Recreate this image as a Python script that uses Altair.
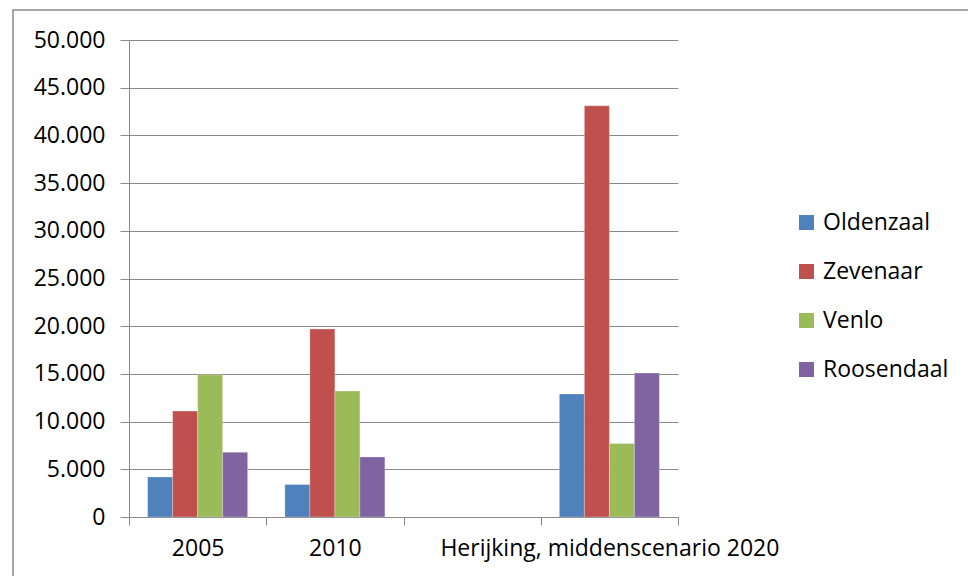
import altair as alt
import pandas as pd

categories = ["2005", "2010", " ", "Herijking, middenscenario 2020"]
series = ["Oldenzaal", "Zevenaar", "Venlo", "Roosendaal"]
colors = ["#4F81BD", "#C0504D", "#9BBB59", "#8064A2"]

oldenzaal = [4200, 3400, None, 12900]
zevenaar = [11100, 19700, None, 43100]
venlo = [14900, 13200, None, 7700]
roosendaal = [6800, 6300, None, 15100]
y_ticks = [0, 5000, 10000, 15000, 20000, 25000, 30000, 35000, 40000, 45000, 50000]

rows = []
for s, vals in zip(series, [oldenzaal, zevenaar, venlo, roosendaal]):
    for c, v in zip(categories, vals):
        if v is not None:
            rows.append({"cat": c, "series": s, "value": v})
df = pd.DataFrame(rows)

W, H = 549, 477
FONT = "Open Sans"
GRAY = "#8a8a8a"
FS = 23

bars = alt.Chart(df).mark_bar(stroke="white", strokeWidth=0.5, strokeOpacity=0.5).encode(
    x=alt.X("cat:N", sort=categories,
            scale=alt.Scale(domain=categories, paddingInner=0, paddingOuter=0),
            axis=alt.Axis(title=None, labelAngle=0, tickBand="extent", tickSize=8,
                          tickColor=GRAY, domainColor=GRAY, labelPadding=12,
                          labelFontSize=FS, labelFont=FONT, labelColor="black",
                          grid=False, labelOverlap=False, labelBound=False, labelLimit=0)),
    xOffset=alt.XOffset("series:N", sort=series,
                        scale=alt.Scale(domain=series, paddingInner=0, paddingOuter=0.745)),
    y=alt.Y("value:Q",
            scale=alt.Scale(domain=[0, 50000], nice=False),
            axis=alt.Axis(title=None, values=y_ticks, grid=True, gridColor=GRAY,
                          tickColor=GRAY, domainColor=GRAY, tickSize=9,
                          labelFontSize=FS, labelFont=FONT, labelColor="black",
                          labelPadding=15,
                          labelExpr="replace(format(datum.value, ',d'), ',', '.')")),
    color=alt.Color("series:N", sort=series,
                    scale=alt.Scale(domain=series, range=colors),
                    legend=alt.Legend(title=None, orient="none", legendX=666, legendY=171,
                                      symbolType="square", symbolSize=225,
                                      symbolStrokeWidth=0, labelFontSize=FS,
                                      labelFont=FONT, labelColor="black",
                                      rowPadding=25, labelOffset=5, labelLimit=0)),
)

frame = alt.Chart(pd.DataFrame({"a": [0]})).mark_rect(
    fill=None, stroke=GRAY, strokeWidth=1.5, clip=False
).encode(
    x=alt.value(-116), x2=alt.value(W + 400),
    y=alt.value(-30), y2=alt.value(H + 200),
)

chart = alt.layer(frame, bars).properties(
    width=W, height=H,
    autosize=alt.AutoSizeParams(type="none"),
    padding={"left": 129, "top": 40, "right": 968 - 129 - W, "bottom": 576 - 40 - H},
    background="white",
).configure_view(stroke=None)

chart.save("out.html", embed_options={"renderer": "svg", "actions": False})
